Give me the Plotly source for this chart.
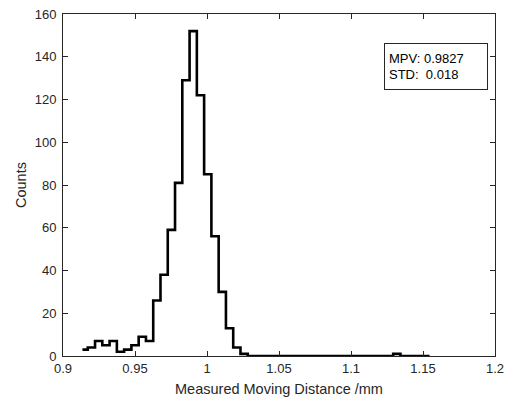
import plotly.graph_objects as go

# Stair points (x positions of steps) and counts
step_x = [0.9135, 0.9172, 0.92225, 0.9273, 0.93235, 0.9374, 0.94245, 0.9475, 0.95255, 0.9576,
          0.96265, 0.9677, 0.97275, 0.9778, 0.98285, 0.9879, 0.99295, 0.998, 1.00305, 1.0081,
          1.01315, 1.0182, 1.02325, 1.0283, 1.03335, 1.0384, 1.04345, 1.0485, 1.05355, 1.0586,
          1.06365, 1.0687, 1.07375, 1.0788, 1.08385, 1.0889, 1.09395, 1.099, 1.10405, 1.1091,
          1.11415, 1.1192, 1.12425, 1.1293, 1.13435, 1.1394, 1.14445, 1.1495, 1.15455]
counts = [3, 4, 7, 5, 7, 2, 3, 5, 9, 7,
          26, 38, 59, 81, 129, 152, 122, 85, 56, 30,
          13, 4, 1, 0, 0, 0, 0, 0, 0, 0,
          0, 0, 0, 0, 0, 0, 0, 0, 0, 0,
          0, 0, 0, 1, 0, 0, 0, 0, 0]

x_tickvals = [0.9, 0.95, 1.0, 1.05, 1.1, 1.15, 1.2]
x_ticktext = ["0.9", "0.95", "1", "1.05", "1.1", "1.15", "1.2"]
y_tickvals = [0, 20, 40, 60, 80, 100, 120, 140, 160]

stats_text = "MPV: 0.9827<br>STD:\u00a0 0.018"

axis_color = "#262626"
font_family = "Liberation Sans, Arial, sans-serif"

fig = go.Figure()
fig.add_trace(go.Scatter(
    x=step_x, y=counts, mode="lines",
    line=dict(shape="hv", color="black", width=2.6),
    showlegend=False,
))

fig.update_layout(
    width=508, height=399,
    margin=dict(l=62.5, r=13, t=14, b=43, autoexpand=False),
    paper_bgcolor="white", plot_bgcolor="white",
    font=dict(family=font_family, size=13, color=axis_color),
    xaxis=dict(
        range=[0.9, 1.2], tickvals=x_tickvals, ticktext=x_ticktext,
        showline=True, linecolor=axis_color, linewidth=1, mirror="ticks",
        ticks="inside", ticklen=5, tickcolor=axis_color, tickwidth=1,
        showgrid=False, zeroline=False, automargin=False,
        title=dict(text="Measured Moving Distance /mm", font=dict(size=14.5), standoff=9),
    ),
    yaxis=dict(
        range=[0, 160], tickvals=y_tickvals,
        showline=True, linecolor=axis_color, linewidth=1, mirror="ticks",
        ticks="inside", ticklen=5, tickcolor=axis_color, tickwidth=1,
        ticklabelstandoff=3,
        showgrid=False, zeroline=False, automargin=False,
        title=dict(text="Counts", font=dict(size=14.5), standoff=4),
    ),
    annotations=[dict(
        xref="paper", yref="paper", x=0.742, y=0.914,
        xanchor="left", yanchor="top", align="left",
        text=stats_text, showarrow=False,
        font=dict(size=13, color="black", family=font_family),
        bordercolor=axis_color, borderwidth=1, borderpad=4,
        bgcolor="white", width=94, height=37,
    )],
)

fig.write_html("out.html")
